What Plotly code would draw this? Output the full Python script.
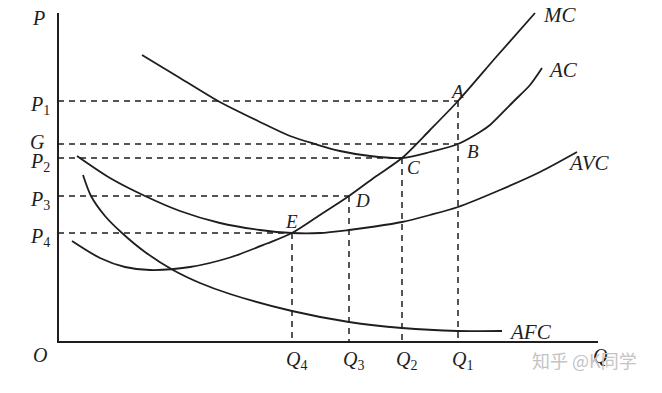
import plotly.graph_objects as go

# Coordinates: origin O at lower-left of axes; x = quantity, y = price (arbitrary units)
# Price levels
price_names = ["P1", "G", "P2", "P3", "P4"]
price_levels = [241, 198, 184, 146, 109]
# Quantity levels
qty_names = ["Q4", "Q3", "Q2", "Q1"]
qty_levels = [234, 291, 344, 400]

# Curves
mc_x = [14, 42, 67, 92, 132, 172, 209, 234, 262, 291, 317, 344, 372, 400, 439, 477]
mc_y = [101, 84, 75, 72, 75, 84.5, 98.5, 109, 127, 146, 165, 184, 212, 241, 286, 329]

ac_x = [84, 122, 160, 202, 232, 257, 282, 312, 344, 372, 400, 422, 432, 455, 472, 484]
ac_y = [287, 264, 241, 220, 206, 198, 191, 186, 184, 190, 198, 210, 217, 240, 257, 274]

avc_x = [19, 52, 87, 122, 162, 202, 234, 262, 291, 317, 344, 372, 400, 442, 482, 519]
avc_y = [186, 164, 146, 131, 119, 112, 109, 109, 112, 115.5, 120, 127, 135, 152, 170, 190]

afc_x = [25, 33, 47, 64, 87, 115, 142, 172, 234, 291, 344, 400, 444]
afc_y = [167, 146, 126, 109, 90, 72, 59, 48, 31, 20, 14, 11, 11]

# Point labels
point_names = ["A", "B", "C", "D", "E"]
point_x = [400, 400, 344, 291, 234]
point_y = [241, 198, 184, 146, 109]

axis_x_end = 540
axis_y_end = 329

INK = "#1e1e1e"
FONT = "Liberation Serif"

fig = go.Figure()

# Axes
fig.add_trace(go.Scatter(x=[0, 0, axis_x_end], y=[axis_y_end, 0, 0], mode="lines",
                         line=dict(color=INK, width=2), hoverinfo="skip"))

# Dashed guides: horizontal from price axis to each point, vertical down to quantity axis
for px_, py_ in zip(point_x, point_y):
    fig.add_trace(go.Scatter(x=[0, px_], y=[py_, py_], mode="lines",
                             line=dict(color=INK, width=1.5, dash="6px,5px"), hoverinfo="skip"))
for qx, py_ in zip(qty_levels, [109, 146, 184, 241]):
    fig.add_trace(go.Scatter(x=[qx, qx], y=[py_, 0], mode="lines",
                             line=dict(color=INK, width=1.5, dash="6px,5px"), hoverinfo="skip"))

# Cost curves
for cx, cy in [(mc_x, mc_y), (ac_x, ac_y), (avc_x, avc_y), (afc_x, afc_y)]:
    fig.add_trace(go.Scatter(x=cx, y=cy, mode="lines",
                             line=dict(color=INK, width=1.8, shape="spline", smoothing=0.8),
                             hoverinfo="skip"))

ann = []
def label(text, x, y, size=20, xanchor="center", yanchor="middle", color=INK, family=FONT):
    ann.append(dict(text=text, x=x, y=y, xref="x", yref="y", showarrow=False,
                    xanchor=xanchor, yanchor=yanchor,
                    font=dict(family=family, size=size, color=color)))

# Axis letters
label("<i>P</i>", -20, 324)
label("<i>O</i>", -18, -13)
label("<i>Q</i>", 542, -14)

# Price tick labels
price_text = ["<i>P</i><sub>1</sub>", "<i>G</i>", "<i>P</i><sub>2</sub>",
              "<i>P</i><sub>3</sub>", "<i>P</i><sub>4</sub>"]
for t, yv in zip(price_text, price_levels):
    label(t, -30, yv + (2 if t == "<i>G</i>" else -4), xanchor="left")

# Quantity tick labels
qty_text = ["<i>Q</i><sub>4</sub>", "<i>Q</i><sub>3</sub>", "<i>Q</i><sub>2</sub>", "<i>Q</i><sub>1</sub>"]
for t, xv in zip(qty_text, qty_levels):
    label(t, xv + 4, -18)

# Curve names
label("<i>MC</i>", 483, 327, size=21, xanchor="left")
label("<i>AC</i>", 488, 272, size=21, xanchor="left")
label("<i>AVC</i>", 508, 179, size=21, xanchor="left")
label("<i>AFC</i>", 449, 10, size=21, xanchor="left")

# Point names
offsets = [(-1, 10), (15, -7), (11, -9), (13, -4), (-1, 12)]
for n, xv, yv, (dx, dy) in zip(point_names, point_x, point_y, offsets):
    label("<i>%s</i>" % n, xv + dx, yv + dy, size=19)

# Watermark
label("知乎 @K同学", 472, -18, size=18, xanchor="left", color="#c4c4c4", family="Noto Sans CJK SC")

fig.update_layout(
    width=662, height=393,
    margin=dict(l=0, r=0, t=0, b=0),
    paper_bgcolor="white", plot_bgcolor="white",
    showlegend=False,
    xaxis=dict(range=[-58, 604], visible=False, fixedrange=True),
    yaxis=dict(range=[-51, 342], visible=False, fixedrange=True),
    annotations=ann,
)

fig.write_html("out.html")
